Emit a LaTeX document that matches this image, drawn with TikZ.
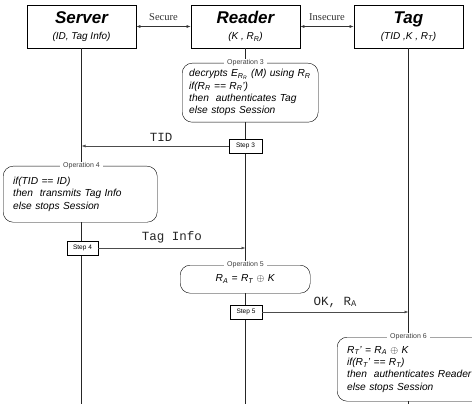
\documentclass[tikz,border=0pt]{standalone}
\usepackage{fontspec}
\setmainfont{Liberation Serif}
\setsansfont{Liberation Sans}
\setmonofont{Liberation Mono}
\usetikzlibrary{arrows.meta,positioning,calc}

\newcommand{\sbs}[1]{\textsubscript{#1}}

\begin{document}
\begin{tikzpicture}[x=1pt, y=-1pt,
    entity/.style={draw, thick, fill=white, minimum width=109pt, minimum height=43pt,
      align=center, inner sep=0pt, font=\sffamily},
    lifeline/.style={line width=1.6pt, black!85},
    opbox/.style={draw, fill=white, rounded corners=10pt, align=left, inner ysep=0pt,
      font=\sffamily\itshape\fontsize{10.2}{12.3}\selectfont},
    oplabel/.style={fill=white, inner xsep=3pt, inner ysep=0.5pt,
      font=\sffamily\fontsize{7}{8}\selectfont, text=black!75},
    stepbox/.style={draw, fill=white, inner sep=0pt, minimum height=14pt,
      font=\sffamily\fontsize{6.5}{7}\selectfont},
    msg/.style={black!70, line width=0.6pt, -{Latex[length=4pt,width=3pt]}},
    msglabel/.style={font=\ttfamily\fontsize{12.5}{13}\selectfont, text=black!85, above=1pt},
    link/.style={black!80, line width=0.6pt,
      {Latex[length=4pt,width=3pt]}-{Latex[length=4pt,width=3pt]}},
    channel/.style={font=\fontsize{10.5}{11}\selectfont, above=2pt}
  ]

  \useasboundingbox (0,0) rectangle (472,404);
  \clip (0,0) rectangle (472,404);

  % Entities
  \node[entity] (server) at (81.5,26.5)
    {{\bfseries\itshape\fontsize{17}{20}\selectfont Server}\\[4pt]
     {\itshape\fontsize{10}{12}\selectfont (ID, Tag Info)}};
  \node[entity] (reader) at (245.5,26.5)
    {{\bfseries\itshape\fontsize{17}{20}\selectfont Reader}\\[4pt]
     {\itshape\fontsize{10}{12}\selectfont (K , R\sbs{R})}};
  \node[entity] (tag) at (408.5,26.5)
    {{\bfseries\itshape\fontsize{17}{20}\selectfont Tag}\\[4pt]
     {\itshape\fontsize{10}{12}\selectfont (TID ,K , R\sbs{T})}};

  % Channels
  \draw[link] (server.east) -- node[channel] {Secure} (reader.west);
  \draw[link] (reader.east) -- node[channel] {Insecure} (tag.west);

  % Lifelines
  \coordinate (bottom) at (0,404);
  \draw[lifeline] (server.south) -- (server |- bottom);
  \draw[lifeline] (reader.south) -- (reader |- bottom);
  \draw[lifeline] (tag.south) -- (tag |- bottom);

  % Operation 3 (Reader)
  \node[opbox, anchor=north west, inner xsep=7pt, text width=122pt,
    minimum height=59pt] (op3) at (182,63)
    {\mbox{decrypts E\sbs{R\sbs{R}} (M) using R\sbs{R}}\\
     if(R\sbs{R} == R\sbs{R}')\\
     then\ \ authenticates Tag\\
     else stops Session};
  \node[oplabel] at (op3.north -| reader) {Operation 3};
  \node[stepbox, minimum width=33pt] (step3) at (245.5,146) {Step 3};

  % TID to Server
  \coordinate (tid end) at (step3 -| server);
  \draw[msg] (step3.west) -- node[msglabel, xshift=6pt] {TID} (tid end);

  % Operation 4 (Server)
  \node[opbox, anchor=north west, inner xsep=10pt, text width=134pt,
    minimum height=56pt] (op4) at (3,166)
    {if(TID == ID)\\
     then\ \ transmits Tag Info\\
     else stops Session};
  \node[oplabel] at (op4.north -| server) {Operation 4};
  \node[stepbox, minimum width=31pt] (step4) at (82.5,248) {Step 4};

  % Tag Info to Reader
  \coordinate (info end) at (step4 -| reader);
  \draw[msg] (step4.east) -- node[msglabel] {Tag Info} (info end);

  % Operation 5 (Reader)
  \node[opbox, anchor=north west, align=center, inner xsep=0pt, text width=130pt,
    minimum height=28pt] (op5) at (180,265)
    {R\sbs{A} = R\sbs{T} $\oplus$ K};
  \node[oplabel] at (op5.north -| reader) {Operation 5};
  \node[stepbox, minimum width=32pt] (step5) at (246,312) {Step 5};

  % OK to Tag
  \coordinate (ok end) at (step5 -| tag);
  \draw[msg] (step5.east) -- node[msglabel] {OK, R\sbs{A}} (ok end);

  % Operation 6 (Tag)
  \node[opbox, anchor=north west, inner xsep=10pt, text width=130pt,
    minimum height=64pt] (op6) at (337,337)
    {R\sbs{T}' = R\sbs{A} $\oplus$ K\\
     if(R\sbs{T}' == R\sbs{T})\\
     then\ \ authenticates Reader\\
     else stops Session};
  \node[oplabel] at (op6.north -| tag) {Operation 6};

\end{tikzpicture}
\end{document}
